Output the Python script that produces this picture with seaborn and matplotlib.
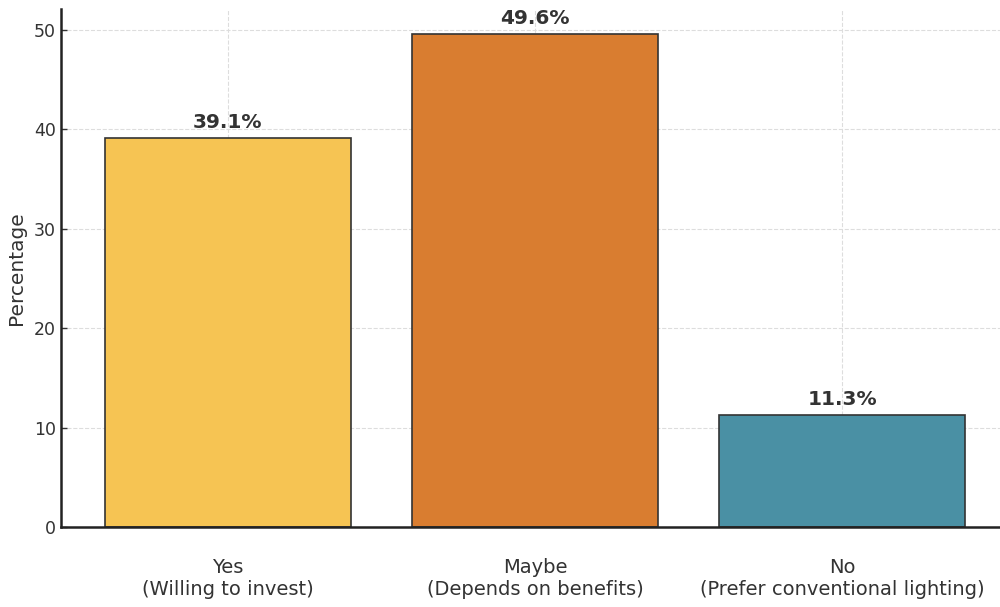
import matplotlib
matplotlib.use("Agg")
import matplotlib.pyplot as plt
import seaborn as sns
import pandas as pd

categories = ["Yes\n(Willing to invest)", "Maybe\n(Depends on benefits)", "No\n(Prefer conventional lighting)"]
percentages = [39.1, 49.6, 11.3]
bar_colors = ["#F6C453", "#D97D30", "#4A90A4"]
y_ticks = [0, 10, 20, 30, 40, 50]

sns.set_theme(style="whitegrid")
plt.rcParams["font.family"] = ["DejaVu Sans"]

df = pd.DataFrame({"Response": categories, "Percentage": percentages})

fig = plt.figure(figsize=(10, 6.07), dpi=100)
ax = fig.add_axes([0.061, 0.1318, 0.948, 0.853])

sns.barplot(data=df, x="Response", y="Percentage", hue="Response",
            palette=bar_colors, edgecolor="#333333", linewidth=1.2,
            width=0.8, legend=False, ax=ax, saturation=1)

for i, v in enumerate(percentages):
    ax.text(i, v + 0.6, f"{v}%", ha="center", va="bottom",
            fontsize=14.5, fontweight="bold", color="#333333")

ax.set_xlim(-0.543, 2.543)
ax.set_ylim(0, 52.08)
ax.set_yticks(y_ticks)
ax.set_xlabel("")
ax.set_ylabel("Percentage", fontsize=14.5, color="#333333", labelpad=6)
ax.tick_params(axis="y", labelsize=12.5, colors="#333333", direction="in",
               length=4, width=1, left=True)
ax.tick_params(axis="x", labelsize=14, colors="#333333", direction="in",
               length=4, width=1, bottom=True, pad=22)

ax.grid(True, linestyle="--", color="#dddddd", linewidth=0.8)
ax.set_axisbelow(True)
for s in ["top", "right"]:
    ax.spines[s].set_visible(False)
for s in ["left", "bottom"]:
    ax.spines[s].set_visible(True)
    ax.spines[s].set_color("#222222")
    ax.spines[s].set_linewidth(1.8)

fig.savefig("out.png", dpi=100)
